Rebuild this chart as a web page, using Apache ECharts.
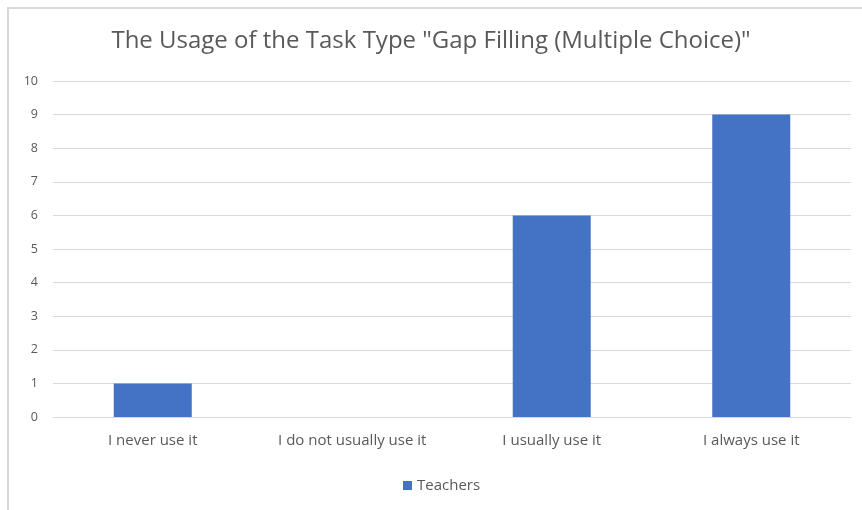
<!DOCTYPE html>
<html>
<head>
<meta charset="utf-8">
<script src="https://cdn.jsdelivr.net/npm/echarts@6/dist/echarts.min.js"></script>
<style>
html,body{margin:0;padding:0;background:#fff;}
#frame{position:absolute;left:7px;top:7px;width:900px;height:600px;border-left:2px solid #d9d9d9;border-top:2px solid #d9d9d9;}
#c{position:absolute;left:0;top:0;width:862px;height:510px;}
</style>
</head>
<body>
<div id="frame"></div>
<div id="c"></div>
<script>
const titleText = 'The Usage of the Task Type "Gap Filling (Multiple Choice)"';
const categories = ['I never use it', 'I do not usually use it', 'I usually use it', 'I always use it'];
const seriesName = 'Teachers';
const teachers = [1, 0, 6, 9];
const yTicks = [0, 1, 2, 3, 4, 5, 6, 7, 8, 9, 10];

const chart = echarts.init(document.getElementById('c'), null, {renderer: 'canvas'});
chart.setOption({
  backgroundColor: 'transparent',
  animation: false,
  title: {
    text: titleText,
    left: 'center',
    top: 24,
    textStyle: {fontFamily: 'Open Sans', fontSize: 24, fontWeight: 'normal', color: '#595959'}
  },
  legend: {
    data: [seriesName],
    left: 398,
    top: 473,
    itemWidth: 9,
    itemHeight: 9,
    icon: 'rect',
    itemGap: 5,
    textStyle: {fontFamily: 'Open Sans', fontSize: 15, color: '#595959'}
  },
  grid: {left: 53, right: 11, top: 81, bottom: 93, containLabel: false},
  xAxis: {
    type: 'category',
    data: categories,
    axisLine: {lineStyle: {color: '#d9d9d9', width: 1}},
    axisTick: {show: false},
    axisLabel: {fontFamily: 'Open Sans', fontSize: 15, color: '#595959', margin: 16}
  },
  yAxis: {
    type: 'value',
    min: yTicks[0],
    max: yTicks[yTicks.length - 1],
    interval: 1,
    axisLine: {show: false},
    axisTick: {show: false},
    splitLine: {lineStyle: {color: '#d9d9d9', width: 1}},
    axisLabel: {fontFamily: 'Open Sans', fontSize: 12.5, color: '#595959', margin: 15}
  },
  series: [{
    name: seriesName,
    type: 'bar',
    data: teachers,
    barWidth: 78,
    itemStyle: {color: '#4472c4'}
  }]
});
</script>
</body>
</html>
